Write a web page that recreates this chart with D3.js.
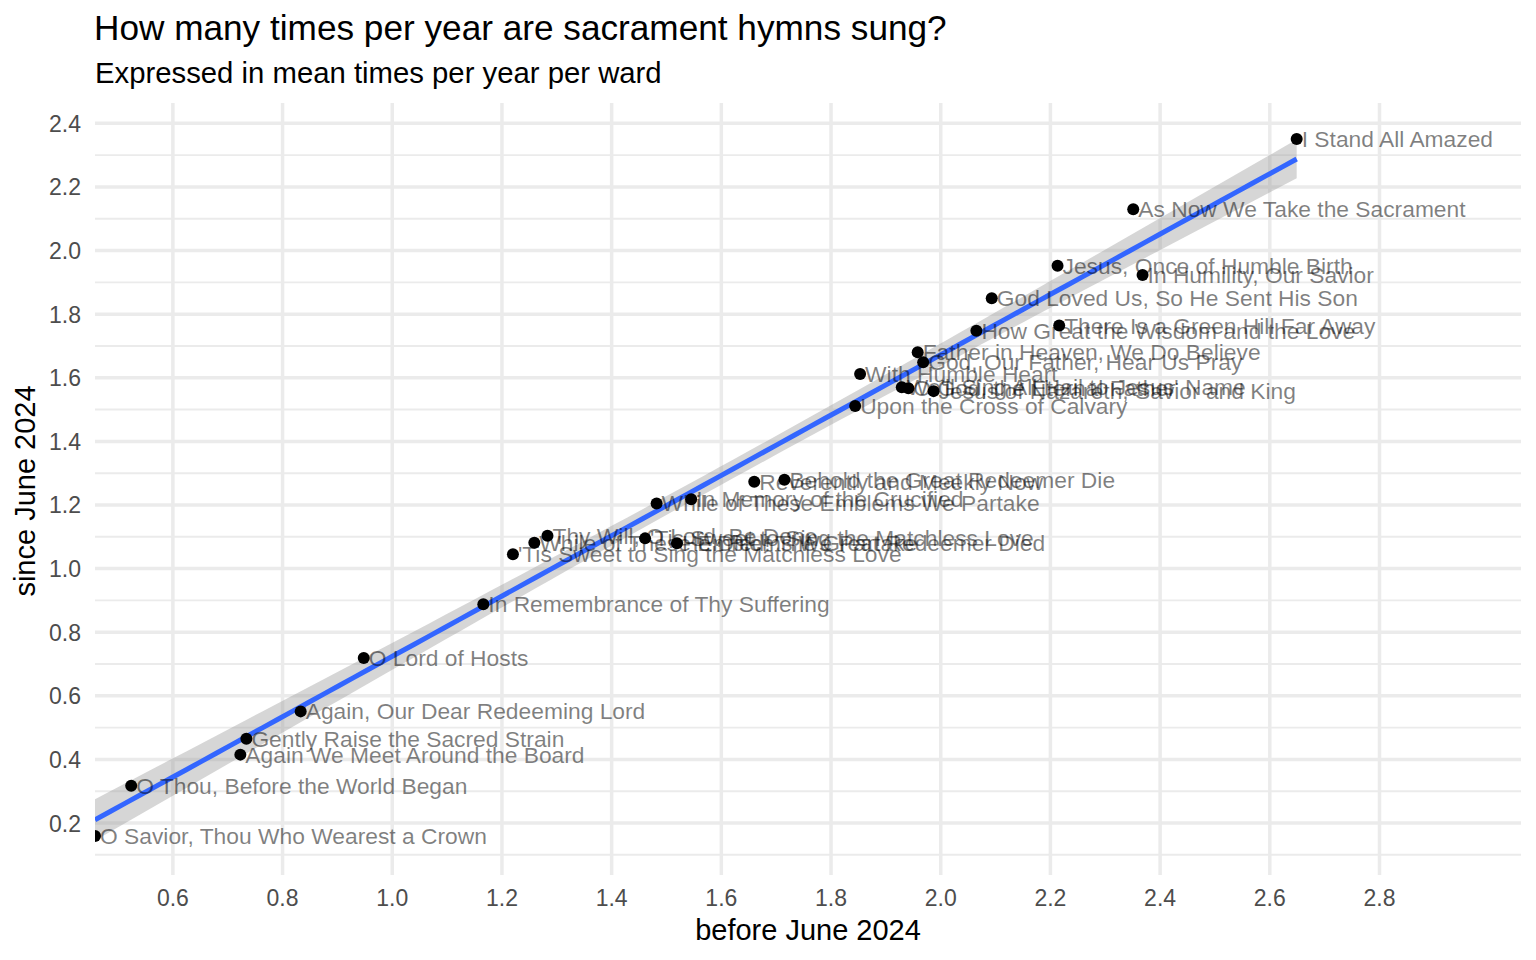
<!DOCTYPE html>
<html>
<head>
<meta charset="utf-8">
<script src="https://cdn.jsdelivr.net/npm/d3@7"></script>
<style>
  html, body { margin: 0; padding: 0; background: #ffffff; }
  svg { display: block; }
  text { font-family: "Liberation Sans", Arial, Helvetica, sans-serif; }
</style>
</head>
<body>
<svg id="chart" width="1536" height="960"></svg>
<script>
// ---- data ----
const hymns = [
  "O Savior, Thou Who Wearest a Crown",
  "O Thou, Before the World Began",
  "Again We Meet Around the Board",
  "Gently Raise the Sacred Strain",
  "Again, Our Dear Redeeming Lord",
  "O Lord of Hosts",
  "In Remembrance of Thy Suffering",
  "'Tis Sweet to Sing the Matchless Love",
  "While of These Emblems We Partake",
  "Thy Will, O Lord, Be Done",
  "'Tis Sweet to Sing the Matchless Love",
  "He Died! The Great Redeemer Died",
  "While of These Emblems We Partake",
  "In Memory of the Crucified",
  "Reverently and Meekly Now",
  "Behold the Great Redeemer Die",
  "Upon the Cross of Calvary",
  "With Humble Heart",
  "We'll Sing All Hail to Jesus' Name",
  "O God, the Eternal Father",
  "Jesus of Nazareth, Savior and King",
  "Father in Heaven, We Do Believe",
  "God, Our Father, Hear Us Pray",
  "How Great the Wisdom and the Love",
  "God Loved Us, So He Sent His Son",
  "Jesus, Once of Humble Birth",
  "There Is a Green Hill Far Away",
  "In Humility, Our Savior",
  "As Now We Take the Sacrament",
  "I Stand All Amazed"
];
const beforeJune2024 = [
  0.458, 0.524, 0.723, 0.734, 0.833, 0.948, 1.166, 1.220, 1.259, 1.283,
  1.461, 1.519, 1.482, 1.545, 1.660, 1.715, 1.844, 1.853, 1.929, 1.941,
  1.987, 1.958, 1.968, 2.065, 2.093, 2.213, 2.216, 2.368, 2.351, 2.649
];
const sinceJune2024 = [
  0.159, 0.317, 0.415, 0.465, 0.551, 0.719, 0.888, 1.045, 1.081, 1.103,
  1.095, 1.080, 1.205, 1.218, 1.273, 1.279, 1.511, 1.612, 1.570, 1.567,
  1.558, 1.680, 1.649, 1.748, 1.850, 1.952, 1.764, 1.923, 2.130, 2.351
];
const xTicks = [0.6, 0.8, 1.0, 1.2, 1.4, 1.6, 1.8, 2.0, 2.2, 2.4, 2.6, 2.8];
const yTicks = [0.2, 0.4, 0.6, 0.8, 1.0, 1.2, 1.4, 1.6, 1.8, 2.0, 2.2, 2.4];
const yMinorTicks = [0.1, 0.3, 0.5, 0.7, 0.9, 1.1, 1.3, 1.5, 1.7, 1.9, 2.1, 2.3];
const titleText = "How many times per year are sacrament hymns sung?";
const subtitleText = "Expressed in mean times per year per ward";
const xTitle = "before June 2024";
const yTitle = "since June 2024";

const points = hymns.map((h, i) => ({ name: h, x: beforeJune2024[i], y: sinceJune2024[i] }));

// ---- layout ----
const P = { left: 95, right: 1521, top: 103, bottom: 875 };
const svg = d3.select("#chart");
const x = d3.scaleLinear().domain([0.458, 3.058]).range([P.left, P.right]);
const y = d3.scaleLinear().domain([0.0365, 2.464]).range([P.bottom, P.top]);

svg.append("defs").append("clipPath").attr("id", "panel")
  .append("rect").attr("x", P.left).attr("y", P.top)
  .attr("width", P.right - P.left).attr("height", P.bottom - P.top);

// grid
const grid = svg.append("g");
grid.selectAll("line.ymin").data(yMinorTicks).join("line")
  .attr("x1", P.left).attr("x2", P.right)
  .attr("y1", d => y(d)).attr("y2", d => y(d))
  .attr("stroke", "#EBEBEB").attr("stroke-width", 1.9);
grid.selectAll("line.ymaj").data(yTicks).join("line")
  .attr("x1", P.left).attr("x2", P.right)
  .attr("y1", d => y(d)).attr("y2", d => y(d))
  .attr("stroke", "#EBEBEB").attr("stroke-width", 3.5);
grid.selectAll("line.xmaj").data(xTicks).join("line")
  .attr("y1", P.top).attr("y2", P.bottom)
  .attr("x1", d => x(d)).attr("x2", d => x(d))
  .attr("stroke", "#EBEBEB").attr("stroke-width", 3.5);

// ---- linear fit with 95% confidence band ----
const n = points.length;
const mx = d3.mean(points, d => d.x), my = d3.mean(points, d => d.y);
const sxx = d3.sum(points, d => (d.x - mx) ** 2);
const sxy = d3.sum(points, d => (d.x - mx) * (d.y - my));
const slope = sxy / sxx, intercept = my - slope * mx;
const sse = d3.sum(points, d => (d.y - (intercept + slope * d.x)) ** 2);
const s = Math.sqrt(sse / (n - 2));
const tq = 2.048; // t(0.975, df = 28)
const xmin = d3.min(points, d => d.x), xmax = d3.max(points, d => d.x);
const fit = d3.range(80).map(i => {
  const xv = xmin + (xmax - xmin) * i / 79;
  const yv = intercept + slope * xv;
  const se = s * Math.sqrt(1 / n + (xv - mx) ** 2 / sxx);
  return { x: xv, y: yv, lo: yv - tq * se, hi: yv + tq * se };
});

const plot = svg.append("g").attr("clip-path", "url(#panel)");
plot.append("path").datum(fit)
  .attr("d", d3.area().x(d => x(d.x)).y0(d => y(d.lo)).y1(d => y(d.hi)))
  .attr("fill", "#999999").attr("fill-opacity", 0.4);
plot.append("path").datum(fit)
  .attr("d", d3.line().x(d => x(d.x)).y(d => y(d.y)))
  .attr("fill", "none").attr("stroke", "#3366FF").attr("stroke-width", 5);

plot.selectAll("circle").data(points).join("circle")
  .attr("cx", d => x(d.x)).attr("cy", d => y(d.y)).attr("r", 6)
  .attr("fill", "#000000");

plot.selectAll("text.lbl").data(points).join("text")
  .attr("class", "lbl")
  .attr("x", d => x(d.x) + 5).attr("y", d => y(d.y) + 8)
  .attr("font-size", 22.8).attr("fill", "#000000").attr("fill-opacity", 0.5)
  .text(d => d.name);

// ---- axes text ----
svg.selectAll("text.xt").data(xTicks).join("text")
  .attr("class", "xt")
  .attr("x", d => x(d)).attr("y", 906)
  .attr("text-anchor", "middle").attr("font-size", 23).attr("fill", "#4D4D4D")
  .text(d => d.toFixed(1));
svg.selectAll("text.yt").data(yTicks).join("text")
  .attr("class", "yt")
  .attr("x", 81).attr("y", d => y(d) + 8.5)
  .attr("text-anchor", "end").attr("font-size", 23).attr("fill", "#4D4D4D")
  .text(d => d.toFixed(1));

svg.append("text").attr("x", (P.left + P.right) / 2).attr("y", 940)
  .attr("text-anchor", "middle").attr("font-size", 29).attr("fill", "#000")
  .text(xTitle);
svg.append("text")
  .attr("transform", `translate(35,${(P.top + P.bottom) / 2 + 2}) rotate(-90)`)
  .attr("text-anchor", "middle").attr("font-size", 29).attr("fill", "#000")
  .text(yTitle);

svg.append("text").attr("x", 94).attr("y", 39.5)
  .attr("font-size", 35.2).attr("fill", "#000").text(titleText);
svg.append("text").attr("x", 95).attr("y", 83)
  .attr("font-size", 29.3).attr("fill", "#000").text(subtitleText);
</script>
</body>
</html>
